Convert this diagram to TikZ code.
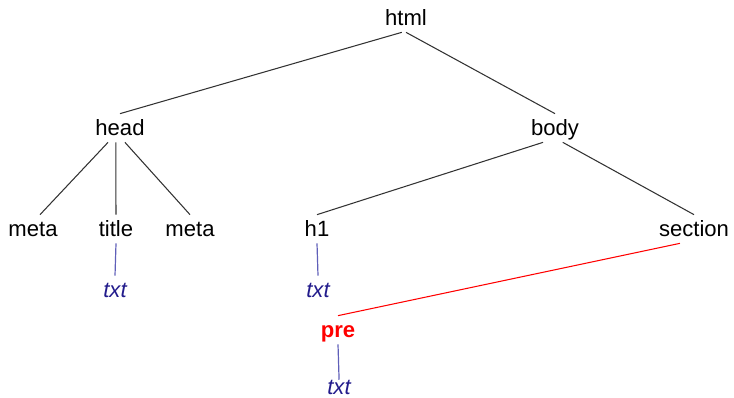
\documentclass[tikz,border=0pt]{standalone}
\usepackage{fontspec}
\setmainfont{Liberation Sans}

\definecolor{txtnavy}{RGB}{35,28,140}
\definecolor{txtline}{RGB}{95,95,185}
\definecolor{treeline}{RGB}{50,50,50}

\begin{document}
\begin{tikzpicture}[x=0.025cm,y=-0.025cm,
	elem/.style={inner xsep=1pt, inner ysep=3pt, text height=12.5pt, text depth=1.5pt,
		font=\fontsize{15.7}{18}\selectfont},
	txtleaf/.style={elem, text=txtnavy, font=\fontsize{15.7}{18}\selectfont\itshape},
	prenode/.style={elem, text=red, font=\fontsize{15.7}{18}\selectfont\bfseries},
	branch/.style={draw=treeline, line width=0.75pt},
	txtlink/.style={draw=txtline, line width=0.85pt},
	movelink/.style={draw=red, line width=0.75pt}]

	% ---- frame

	\useasboundingbox (0,0) rectangle (734,398);

	% ---- element nodes

	\node[elem] (html) at (406,18) {html};

	\node[elem] (head) at (120,128) {head};
	\node[elem] (body) at (555,128) {body};

	\node[elem] (meta1) at (33,229) {meta};
	\node[elem] (title) at (116,229) {title};
	\node[elem] (meta2) at (190,229) {meta};
	\node[elem] (h1) at (317,229) {h1};
	\node[elem] (section) at (694,229) {section};

	\node[prenode] (pre) at (338,330) {pre};

	% ---- text nodes

	\node[txtleaf] (txt1) at (115,290) {txt};
	\node[txtleaf] (txt2) at (318,290) {txt};
	% last one sits on the bottom edge: no vertical padding
	\node[txtleaf, inner ysep=0pt, text depth=0pt] (txt3) at (339,386) {txt};

	% ---- tree edges

	\draw[branch] ([xshift=-3pt]html.south) -- (head.north);
	\draw[branch] (html.south) -- (body.north);

	\draw[branch] ([xshift=-8.5pt]head.south) -- ([xshift=5pt]meta1.north);
	\draw[branch] ([xshift=-3pt]head.south) -- (title.north);
	\draw[branch] ([xshift=3.5pt]head.south) -- (meta2.north);

	\draw[branch] ([xshift=-8.5pt]body.south) -- (h1.north);
	\draw[branch] ([xshift=5.5pt]body.south) -- (section.north);

	% ---- text links

	\draw[txtlink] (title.south) -- (txt1.north);
	\draw[txtlink] (h1.south) -- (txt2.north);
	\draw[txtlink, shorten >=-2pt] (pre.south) -- (txt3.north);

	% ---- moved element

	\draw[movelink] ([xshift=-10pt]section.south) -- (pre.north);

\end{tikzpicture}
\end{document}
